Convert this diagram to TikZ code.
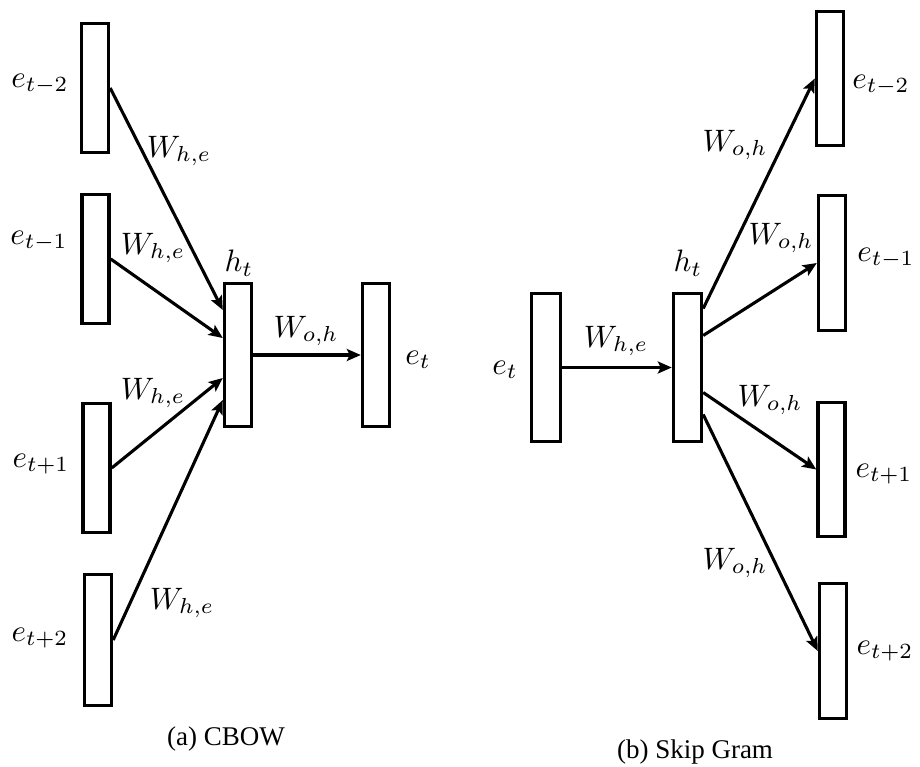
\documentclass[tikz,border=0pt]{standalone}
\usepackage{fontspec}
\setmainfont{Liberation Serif}
\usepackage{tikz}
\usetikzlibrary{arrows.meta,positioning}

\begin{document}
\begin{tikzpicture}[
    x=1pt, y=-1pt,
    vec/.style={draw, line width=3.4pt, fill=white, inner sep=0pt, minimum width=27pt},
    lbl/.style={inner sep=0pt, scale=3.1},
    subcap/.style={inner sep=0pt, font=\fontsize{27}{32}\selectfont},
    conn/.style={-{Stealth[length=14pt, width=12pt, inset=3pt]}, line width=3.1pt}
]
\useasboundingbox (0,0) rectangle (920,767);

% (a) CBOW
\node[vec, minimum height=129pt] (cin1) at (95, 88) {};
\node[vec, minimum height=129pt] (cin2) at (95.5, 259) {};
\node[vec, minimum height=129pt] (cin3) at (96.5, 468) {};
\node[vec, minimum height=131pt] (cin4) at (98, 640) {};
\node[vec, minimum height=143pt] (ch) at (238, 355) {};
\node[vec, minimum height=143pt] (cout) at (376, 355) {};

\node[lbl] (lcin1) at (40, 84) {$e_{t-2}$};
\node[lbl] (lcin2) at (39, 241) {$e_{t-1}$};
\node[lbl] (lcin3) at (41, 464) {$e_{t+1}$};
\node[lbl] (lcin4) at (40, 638) {$e_{t+2}$};
\node[lbl] (lch) at (239, 263) {$h_t$};
\node[lbl] (lcout) at (418, 360) {$e_t$};

\coordinate (ch1) at ([yshift=45pt]ch.west);
\coordinate (ch2) at ([yshift=17pt]ch.west);
\coordinate (ch3) at ([yshift=-23pt]ch.west);
\coordinate (ch4) at ([yshift=-45pt]ch.west);
\draw[conn] (cin1.east) -- (ch1);
\draw[conn] (cin2.east) -- (ch2);
\draw[conn] (cin3.east) -- (ch3);
\draw[conn] (cin4.east) -- (ch4);
\draw[conn] (ch.east) -- (cout.west);

\node[lbl] (wc1) at (179, 151) {$W_{h,e}$};
\node[lbl] (wc2) at (153, 248) {$W_{h,e}$};
\node[lbl] (wc3) at (153, 393) {$W_{h,e}$};
\node[lbl] (wc4) at (182, 603) {$W_{h,e}$};
\node[lbl] (wc5) at (306, 331) {$W_{o,h}$};

\node[subcap] (capa) at (226, 739) {(a) CBOW};

% (b) Skip Gram
\node[vec, minimum width=29pt, minimum height=148pt] (sin) at (546, 367.5) {};
\node[vec, minimum width=28pt, minimum height=148pt] (sh) at (687.5, 367.5) {};
\node[vec, minimum height=134pt] (sout1) at (830, 78.5) {};
\node[vec, minimum height=135pt] (sout2) at (832, 263) {};
\node[vec, minimum height=134pt] (sout3) at (831.5, 469.5) {};
\node[vec, minimum height=135pt] (sout4) at (833, 651) {};

\node[lbl] (lsin) at (505, 370) {$e_t$};
\node[lbl] (lsh) at (688, 263) {$h_t$};
\node[lbl] (lsout1) at (881, 85) {$e_{t-2}$};
\node[lbl] (lsout2) at (886, 258) {$e_{t-1}$};
\node[lbl] (lsout3) at (884, 474) {$e_{t+1}$};
\node[lbl] (lsout4) at (885, 651) {$e_{t+2}$};

\coordinate (sh1) at ([yshift=59pt]sh.east);
\coordinate (sh2) at ([yshift=32pt]sh.east);
\coordinate (sh3) at ([yshift=-25pt]sh.east);
\coordinate (sh4) at ([yshift=-47pt]sh.east);
\draw[conn] (sin.east) -- (sh.west);
\draw[conn] (sh1) -- (sout1.west);
\draw[conn] (sh2) -- (sout2.west);
\draw[conn] (sh3) -- (sout3.west);
\draw[conn] (sh4) -- (sout4.west);

\node[lbl] (ws0) at (616, 341) {$W_{h,e}$};
\node[lbl] (ws1) at (735, 145) {$W_{o,h}$};
\node[lbl] (ws2) at (781, 238) {$W_{o,h}$};
\node[lbl] (ws3) at (770, 400) {$W_{o,h}$};
\node[lbl] (ws4) at (735, 563) {$W_{o,h}$};

\node[subcap] (capb) at (695, 752) {(b) Skip Gram};

\end{tikzpicture}
\end{document}
